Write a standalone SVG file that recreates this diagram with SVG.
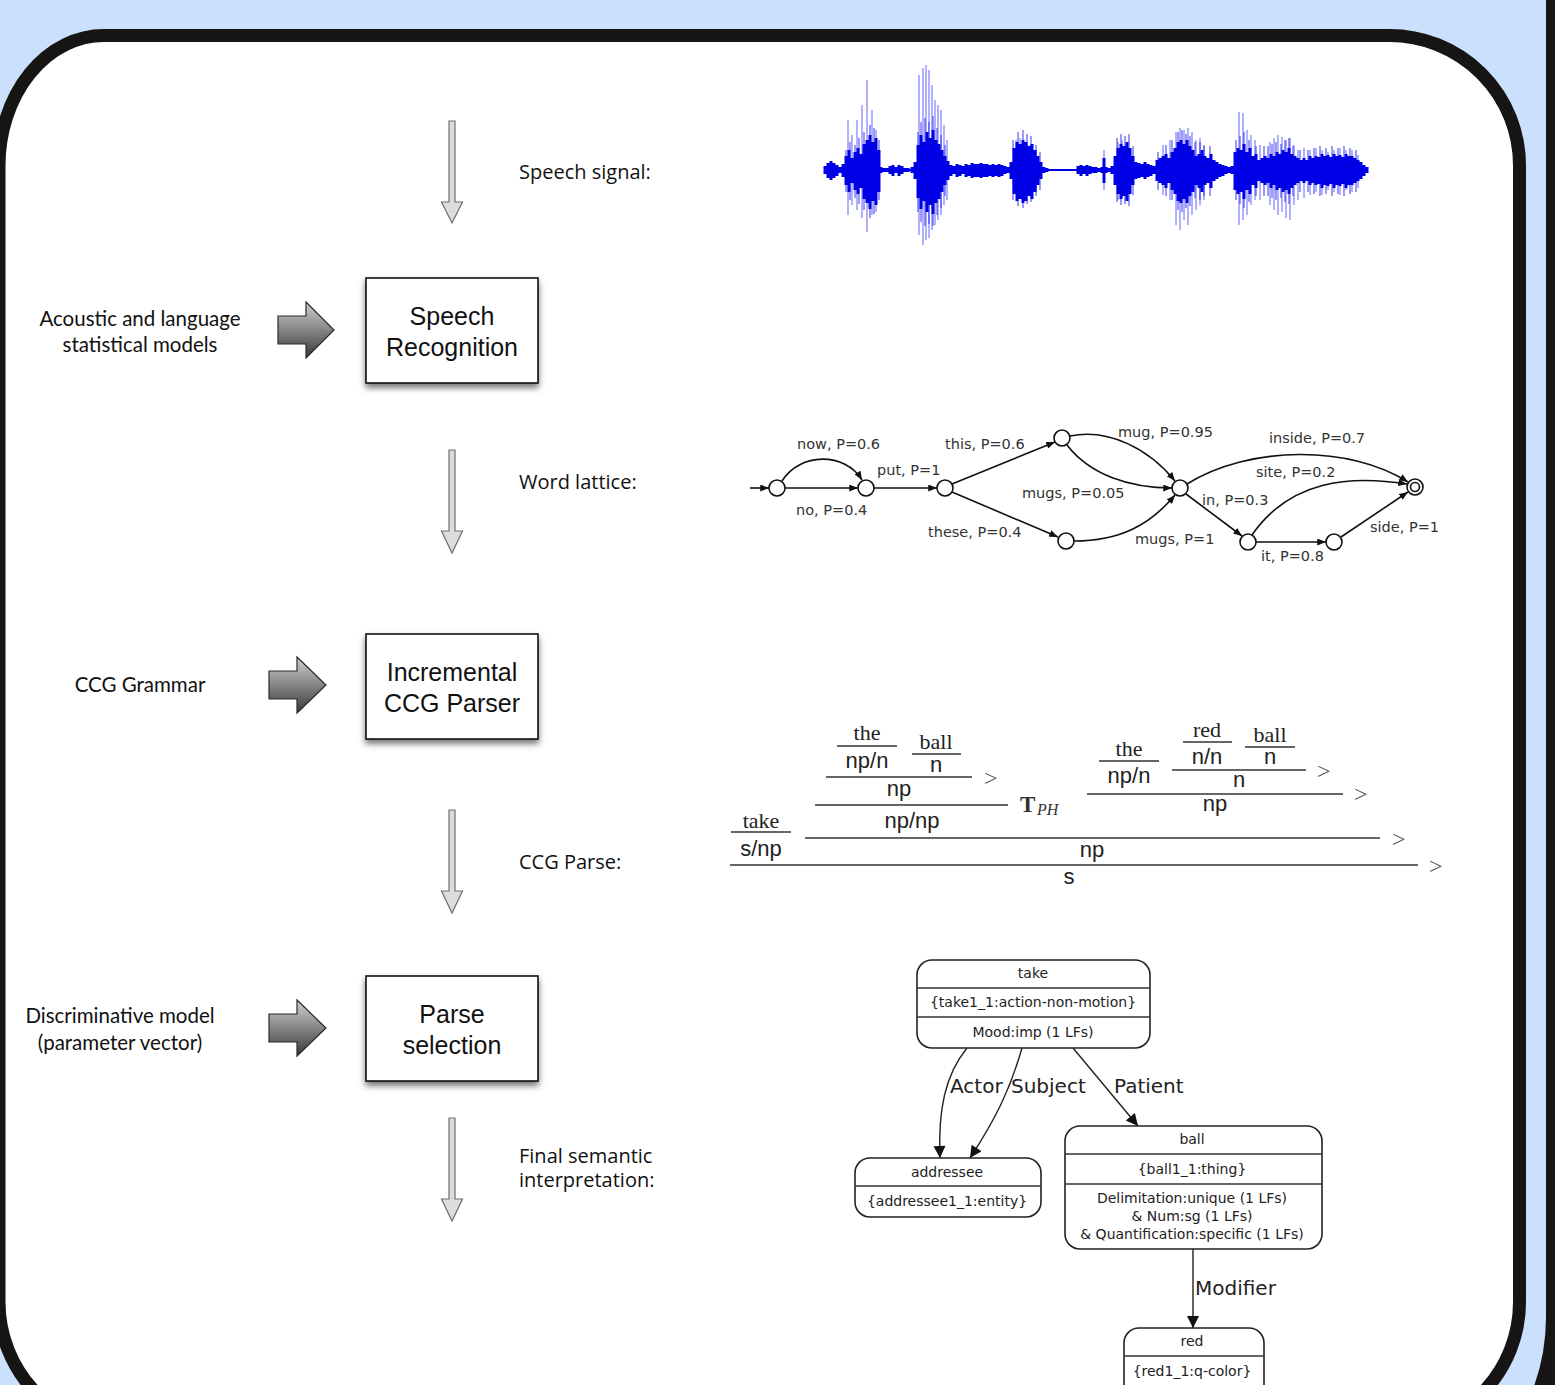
<svg xmlns="http://www.w3.org/2000/svg" width="1555" height="1385" viewBox="0 0 1555 1385">
<defs>
<style>
.lbl{font-family:"Open Sans","DejaVu Sans",sans-serif;font-size:20px;fill:#111}
.side{font-family:Lato,"Open Sans",sans-serif;font-size:20.5px;fill:#111;text-anchor:middle}
.box{fill:#fff;stroke:#111;stroke-width:1.6}
.boxt{font-family:"Liberation Sans",Arial,sans-serif;font-size:25px;fill:#111;text-anchor:middle}
.down{fill:#dcdcdc;stroke:#6f6f6f;stroke-width:1.2}
.fat{fill:url(#fatg);stroke:#2a2a2a;stroke-width:1.2}
.lat{font-family:"DejaVu Sans",sans-serif;font-size:14.5px;fill:#333}
.le{fill:none;stroke:#111;stroke-width:1.6;marker-end:url(#ah)}
.nd{fill:#fff;stroke:#111;stroke-width:1.6}
.cat{font-family:"Liberation Sans",Arial,sans-serif;font-size:22px;fill:#222;text-anchor:middle}
.wd{font-family:"Liberation Serif","Times New Roman",serif;font-size:22px;fill:#222;text-anchor:middle}
.rl{stroke:#333;stroke-width:1.3}
.gt{font-family:"Liberation Serif",serif;font-size:24px;fill:#555}
.sn{fill:#fff;stroke:#222;stroke-width:1.6}
.st{font-family:"DejaVu Sans",sans-serif;font-size:14px;fill:#222;text-anchor:middle}
.se{fill:none;stroke:#222;stroke-width:1.4;marker-end:url(#ah2)}
.el{font-family:"DejaVu Sans",sans-serif;font-size:20px;fill:#222}
</style>
<linearGradient id="fatg" x1="0" y1="0" x2="0" y2="1">
<stop offset="0" stop-color="#cfcfcf"/>
<stop offset="1" stop-color="#3a3a3a"/>
</linearGradient>
<filter id="sh" x="-20%" y="-20%" width="140%" height="150%">
<feDropShadow dx="0" dy="4" stdDeviation="3" flood-color="#000" flood-opacity="0.55"/>
</filter>
<marker id="ah" viewBox="0 0 10 8" refX="10" refY="4" markerWidth="9" markerHeight="7" orient="auto" markerUnits="userSpaceOnUse">
<path d="M0,0 L10,4 L0,8 z" fill="#111"/>
</marker>
<marker id="ah2" viewBox="0 0 10 10" refX="10" refY="5" markerWidth="14" markerHeight="12" orient="auto" markerUnits="userSpaceOnUse">
<path d="M0,0 L10,5 L0,10 z" fill="#111"/>
</marker>
</defs>

<rect x="0" y="0" width="1555" height="1385" fill="#cbe0fc"/>
<rect x="-600" y="-240" width="2156" height="1773" rx="216" fill="none" stroke="#161513" stroke-width="20"/>
<path d="M104,35.5 H1389.5 A130 130 0 0 1 1519.5 165.5 V1302 A130 130 0 0 1 1389.5 1432 H129 A130 130 0 0 1 -1 1302 V165.5 A105 130 0 0 1 104 35.5 Z" fill="#fff" stroke="#161513" stroke-width="13"/>

<g id="waveform">
<path d="M825 170H1368" stroke="#0000e6" stroke-width="2"/>
<path fill="none" stroke="#6060ff" stroke-width="1.3" stroke-opacity="0.75" d="M848 120V215M852 135V205M857 120V210M862 105V218M867 80V232M872 110V215M876 130V212M919 75V235M923 68V245M926 65V240M929 70V238M932 85V230M935 100V225M938 105V220M941 110V215M944 125V205M947 140V200M1016 140V195M1020 138V198M1024 142V195M1028 145V192M1032 150V190M1036 150V188M1104 150V190M1118 142V200M1122 140V198M1126 145V195M1163 145V195M1170 140V200M1176 132V225M1180 128V230M1184 130V220M1188 128V225M1192 132V215M1196 140V210M1200 138V205M1204 145V200M1239 112V225M1243 113V220M1247 130V215M1251 135V205M1255 140V200M1260 145V200M1270 142V205M1274 138V210M1278 135V215M1282 137V212M1286 140V218M1290 138V220M1294 145V205M1298 150V200M1304 148V198M1310 150V195M1316 148V192M1322 150V195M1328 152V190M1334 150V192M1340 148V195M1346 150V190M1352 150V192M1358 155V188"/>
<path fill="none" stroke="#3030f0" stroke-width="1.6" stroke-opacity="0.6" d="M846 150V192M850 142V200M855 145V198M859 138V204M864 132V210M870 125V218M874 128V214M879 140V200M918 132V212M921 122V222M925 118V226M929 122V224M933 116V226M937 128V215M941 135V208M945 145V196M1013 140V200M1018 132V206M1023 130V208M1027 134V204M1031 136V202M1036 145V196M1040 152V190M1117 138V202M1121 134V205M1125 136V204M1129 134V206M1133 146V195M1158 152V190M1166 145V196M1172 140V200M1178 132V210M1182 130V212M1186 134V208M1190 136V206M1195 142V198M1200 142V200M1204 146V196M1210 146V196M1236 140V200M1240 136V204M1244 132V208M1249 140V202M1256 146V196M1264 146V196M1268 146V196M1272 144V198M1276 142V200M1281 144V198M1285 140V202M1289 138V204M1293 146V196M1300 150V192M1308 150V192M1314 148V194M1320 146V196M1326 148V194M1332 146V196M1338 148V194M1344 146V196M1350 148V194M1356 150V192"/>
<path fill="none" stroke="#0000e6" stroke-width="3" d="M825 166V174M828 163V178M831 161V180M834 163V178M837 165V176M840 167V173M843 164V177M846 156V185M849 150V192M852 158V183M855 152V190M858 148V194M861 154V188M864 144V199M867 140V203M870 135V209M873 142V201M876 138V205M879 150V192M881 167V173M884 168V172M887 168V172M890 166V174M893 165V176M896 167V173M899 165V176M902 166V174M905 168V172M908 168V172M912 167V173M915 162V179M918 145V198M921 135V209M924 142V201M927 132V212M930 138V205M933 130V214M936 140V203M939 144V199M942 150V192M945 156V185M948 161V180M951 165V176M954 166V174M957 164V177M960 165V176M963 166V174M966 164V177M969 165V176M972 163V178M975 164V177M978 164V177M981 163V178M984 164V177M987 164V177M990 165V176M993 164V177M996 165V176M999 164V177M1002 165V176M1005 166V174M1008 167V173M1011 162V179M1014 148V194M1017 142V201M1020 144V199M1023 140V203M1026 142V201M1029 146V196M1032 144V199M1035 150V192M1038 156V185M1041 162V179M1044 167V173M1047 168V172M1078 166V174M1081 165V176M1084 166V174M1087 165V176M1090 166V174M1093 167V173M1096 167V173M1099 168V172M1102 167V173M1104 158V183M1106 167V173M1109 168V172M1112 166V174M1115 156V185M1118 148V194M1121 144V199M1124 146V196M1127 142V201M1130 148V194M1133 156V185M1136 162V179M1139 163V178M1142 164V177M1145 162V179M1148 164V177M1151 165V176M1154 166V174M1157 160V181M1160 158V183M1163 156V185M1166 154V188M1169 158V183M1172 152V190M1175 148V194M1178 142V201M1181 140V203M1184 144V199M1187 140V203M1190 146V196M1193 150V192M1196 156V185M1199 154V188M1202 150V192M1205 156V185M1208 158V183M1211 154V188M1214 160V181M1217 162V179M1220 164V177M1223 165V176M1226 166V174M1229 167V173M1232 166V174M1235 152V190M1238 148V194M1241 150V192M1244 144V199M1247 152V190M1250 148V194M1253 156V185M1256 154V188M1259 160V181M1262 158V183M1265 156V185M1268 158V183M1271 154V188M1274 156V185M1277 152V190M1280 154V188M1283 150V192M1286 152V190M1289 148V194M1292 154V188M1295 156V185M1298 158V183M1301 160V181M1304 158V183M1307 160V181M1310 156V185M1313 158V183M1316 156V185M1319 157V184M1322 154V188M1325 156V185M1328 155V186M1331 157V184M1334 154V188M1337 156V185M1340 155V186M1343 157V184M1346 154V188M1349 156V185M1352 156V185M1355 158V183M1358 160V181M1361 162V179M1364 165V176M1367 167V173"/>
</g>

<g id="connectors">
<polygon class="down" points="449,121 455,121 455,202 462.5,202 452,223 441.5,202 449,202"/>
<polygon class="down" points="449,450 455,450 455,531 462.5,531 452,553 441.5,531 449,531"/>
<polygon class="down" points="449,810 455,810 455,891 462.5,891 452,913 441.5,891 449,891"/>
<polygon class="down" points="449,1118 455,1118 455,1199 462.5,1199 452,1221 441.5,1199 449,1199"/>
<polygon class="fat" points="278,316 306,316 306,302 334,330 306,358 306,344 278,344"/>
<polygon class="fat" points="269,671 297,671 297,657 326,685 297,713 297,699 269,699"/>
<polygon class="fat" points="269,1014 297,1014 297,1000 326,1028 297,1056 297,1042 269,1042"/>
</g>

<g id="labels">
<text class="lbl" x="519" y="179">Speech signal:</text>
<text class="lbl" x="519" y="489">Word lattice:</text>
<text class="lbl" x="519" y="869">CCG Parse:</text>
<text class="lbl" x="519" y="1163">Final semantic</text>
<text class="lbl" x="519" y="1187">interpretation:</text>
<text class="side" x="140" y="326">Acoustic and language</text>
<text class="side" x="140" y="352">statistical models</text>
<text class="side" x="140" y="692">CCG Grammar</text>
<text class="side" x="120" y="1023">Discriminative model</text>
<text class="side" x="120" y="1050">(parameter vector)</text>
</g>

<g id="speech-recognition">
<rect class="box" x="366" y="278" width="172" height="105" filter="url(#sh)"/>
<text class="boxt" x="452" y="325">Speech</text>
<text class="boxt" x="452" y="356">Recognition</text>
</g>
<g id="ccg-parser">
<rect class="box" x="366" y="634" width="172" height="105" filter="url(#sh)"/>
<text class="boxt" x="452" y="681">Incremental</text>
<text class="boxt" x="452" y="712">CCG Parser</text>
</g>
<g id="parse-selection">
<rect class="box" x="366" y="976" width="172" height="105" filter="url(#sh)"/>
<text class="boxt" x="452" y="1023">Parse</text>
<text class="boxt" x="452" y="1054">selection</text>
</g>

<g id="word-lattice">
<g id="lattice-edges">
<path class="le" d="M750,488 H769"/>
<path class="le" d="M785,488 H858"/>
<path class="le" d="M782,481 C800,452 845,452 862,480"/>
<path class="le" d="M874,488 H937"/>
<path class="le" d="M952,484 L1055,442"/>
<path class="le" d="M952,492 L1058,537"/>
<path class="le" d="M1070,436 C1110,428 1150,450 1175,481"/>
<path class="le" d="M1067,445 C1090,475 1130,488 1172,488"/>
<path class="le" d="M1074,541 C1120,541 1150,525 1175,495"/>
<path class="le" d="M1187,484 C1250,445 1350,445 1408,482"/>
<path class="le" d="M1186,494 L1242,536"/>
<path class="le" d="M1252,535 C1290,480 1350,475 1407,484"/>
<path class="le" d="M1256,542 H1326"/>
<path class="le" d="M1341,537 L1408,492"/>
</g>
<circle class="nd" cx="777" cy="488" r="8"/>
<circle class="nd" cx="866" cy="488" r="8"/>
<circle class="nd" cx="945" cy="488" r="8"/>
<circle class="nd" cx="1062" cy="438" r="8"/>
<circle class="nd" cx="1066" cy="541" r="8"/>
<circle class="nd" cx="1180" cy="488" r="8"/>
<circle class="nd" cx="1248" cy="542" r="8"/>
<circle class="nd" cx="1334" cy="542" r="8"/>
<circle class="nd" cx="1415" cy="487" r="8"/>
<circle class="nd" cx="1415" cy="487" r="4.5"/>
<text class="lat" x="797" y="449">now, P=0.6</text>
<text class="lat" x="796" y="515">no, P=0.4</text>
<text class="lat" x="877" y="475">put, P=1</text>
<text class="lat" x="945" y="449">this, P=0.6</text>
<text class="lat" x="928" y="537">these, P=0.4</text>
<text class="lat" x="1118" y="437">mug, P=0.95</text>
<text class="lat" x="1022" y="498">mugs, P=0.05</text>
<text class="lat" x="1135" y="544">mugs, P=1</text>
<text class="lat" x="1269" y="443">inside, P=0.7</text>
<text class="lat" x="1256" y="477">site, P=0.2</text>
<text class="lat" x="1202" y="505">in, P=0.3</text>
<text class="lat" x="1261" y="561">it, P=0.8</text>
<text class="lat" x="1370" y="532">side, P=1</text>
</g>

<g id="ccg-parse">
<text class="wd" x="867" y="740">the</text>
<line class="rl" x1="837" y1="746" x2="897" y2="746"/>
<text class="cat" x="867" y="768">np/n</text>
<text class="wd" x="936" y="749">ball</text>
<line class="rl" x1="912" y1="754" x2="961" y2="754"/>
<text class="cat" x="936" y="772">n</text>
<line class="rl" x1="826" y1="777" x2="972" y2="777"/>
<text class="gt" x="984" y="786">&gt;</text>
<text class="cat" x="899" y="796">np</text>
<line class="rl" x1="815" y1="805" x2="1008" y2="805"/>
<text x="1020" y="812" font-family="Liberation Serif,serif" font-size="23" font-weight="bold" fill="#333">T</text>
<text x="1037" y="815" font-family="Liberation Serif,serif" font-size="16" font-style="italic" fill="#333">PH</text>
<text class="cat" x="912" y="828">np/np</text>
<text class="wd" x="761" y="828">take</text>
<line class="rl" x1="731" y1="832" x2="791" y2="832"/>
<text class="cat" x="761" y="856">s/np</text>
<line class="rl" x1="805" y1="838" x2="1380" y2="838"/>
<text class="gt" x="1392" y="847">&gt;</text>
<text class="cat" x="1092" y="857">np</text>
<line class="rl" x1="730" y1="865" x2="1418" y2="865"/>
<text class="gt" x="1429" y="874">&gt;</text>
<text class="cat" x="1069" y="884">s</text>
<text class="wd" x="1129" y="756">the</text>
<line class="rl" x1="1099" y1="761" x2="1159" y2="761"/>
<text class="cat" x="1129" y="783">np/n</text>
<text class="wd" x="1207" y="737">red</text>
<line class="rl" x1="1183" y1="742" x2="1232" y2="742"/>
<text class="cat" x="1207" y="764">n/n</text>
<text class="wd" x="1270" y="742">ball</text>
<line class="rl" x1="1245" y1="747" x2="1295" y2="747"/>
<text class="cat" x="1270" y="764">n</text>
<line class="rl" x1="1172" y1="770" x2="1306" y2="770"/>
<text class="gt" x="1317" y="779">&gt;</text>
<text class="cat" x="1239" y="787">n</text>
<line class="rl" x1="1087" y1="794" x2="1343" y2="794"/>
<text class="gt" x="1354" y="802">&gt;</text>
<text class="cat" x="1215" y="811">np</text>
</g>

<g id="semantic-edges">
<path class="se" d="M967,1048 C945,1075 938,1110 940,1158"/>
<path class="se" d="M1022,1048 C1010,1090 995,1120 970,1158"/>
<path class="se" d="M1073,1048 L1138,1126"/>
<path class="se" d="M1193,1249 L1193,1328"/>
<text class="el" x="950" y="1093">Actor</text>
<text class="el" x="1011" y="1093">Subject</text>
<text class="el" x="1114" y="1093">Patient</text>
<text class="el" x="1195" y="1295">Modifier</text>
</g>
<g id="node-take">
<rect class="sn" x="917" y="960" width="233" height="88" rx="15"/>
<line class="rl" x1="917" y1="988" x2="1150" y2="988"/>
<line class="rl" x1="917" y1="1017" x2="1150" y2="1017"/>
<text class="st" x="1033" y="978">take</text>
<text class="st" x="1033" y="1007">{take1_1:action-non-motion}</text>
<text class="st" x="1033" y="1037">Mood:imp (1 LFs)</text>
</g>
<g id="node-addressee">
<rect class="sn" x="855" y="1158" width="186" height="59" rx="15"/>
<line class="rl" x1="855" y1="1186" x2="1041" y2="1186"/>
<text class="st" x="947" y="1177">addressee</text>
<text class="st" x="947" y="1206">{addressee1_1:entity}</text>
</g>
<g id="node-ball">
<rect class="sn" x="1065" y="1126" width="257" height="123" rx="15"/>
<line class="rl" x1="1065" y1="1154" x2="1322" y2="1154"/>
<line class="rl" x1="1065" y1="1184" x2="1322" y2="1184"/>
<text class="st" x="1192" y="1144">ball</text>
<text class="st" x="1192" y="1174">{ball1_1:thing}</text>
<text class="st" x="1192" y="1203">Delimitation:unique (1 LFs)</text>
<text class="st" x="1192" y="1221">&amp; Num:sg (1 LFs)</text>
<text class="st" x="1192" y="1239">&amp; Quantification:specific (1 LFs)</text>
</g>
<g id="node-red">
<rect class="sn" x="1124" y="1328" width="140" height="80" rx="15"/>
<line class="rl" x1="1124" y1="1356" x2="1264" y2="1356"/>
<text class="st" x="1192" y="1346">red</text>
<text class="st" x="1192" y="1376">{red1_1:q-color}</text>
</g>
</svg>
